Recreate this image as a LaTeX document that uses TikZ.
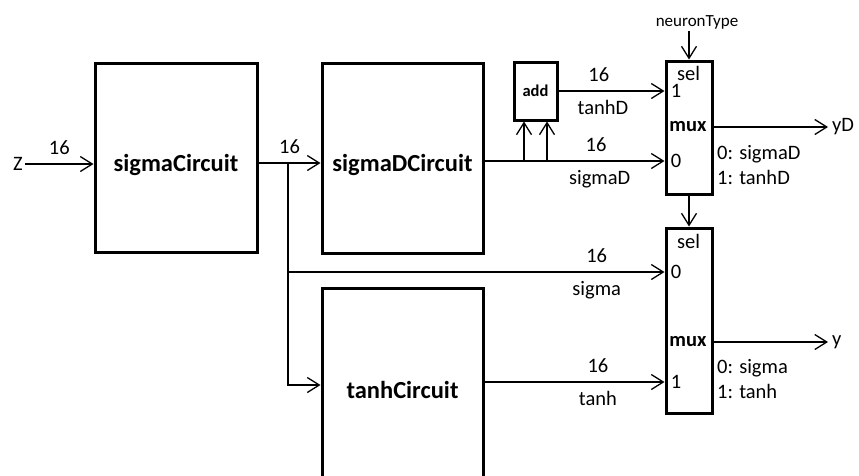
\documentclass[tikz,border=0pt]{standalone}
\usepackage{fontspec}
\setmainfont{Carlito}
\usetikzlibrary{arrows.meta}

\begin{document}
\begin{tikzpicture}[
x=1pt, y=-1pt,
blk/.style={draw, line width=3pt, minimum width=161pt, minimum height=190pt, text height=27pt, text depth=0pt, font=\fontsize{24.5}{29}\selectfont\bfseries},
muxbox/.style={draw, line width=3pt, minimum width=46pt, inner sep=0pt},
wire/.style={line width=1.3pt, -{Straight Barb[length=12pt,width=15pt]}},
lbl/.style={font=\fontsize{20.5}{25}\selectfont, inner sep=9pt},
port/.style={font=\fontsize{20.5}{25}\selectfont, inner sep=0pt},
muxlbl/.style={port, font=\fontsize{20.5}{25}\selectfont\bfseries}
]
\useasboundingbox (0,0) rectangle (859,475);
\clip (0,0) rectangle (859,475);

% circuit blocks
\node[blk, minimum width=162pt, minimum height=189pt] (sigma) at (176,157.5) {sigmaCircuit};
\node[blk] (sigmaD) at (402.5,158) {sigmaDCircuit};
\node[blk, minimum height=194pt] (tanh) at (402.5,385) {tanhCircuit};
\node[draw, line width=3pt, minimum width=43pt, minimum height=58pt, font=\fontsize{16.5}{20}\selectfont\bfseries] (add) at (535.5,91) {add};

% multiplexers
\node[muxbox, minimum height=133pt] (mux1) at (689,127.5) {};
\node[muxbox, minimum height=185pt] (mux2) at (689,320.5) {};
\node[port] (m1sel) at (688.5,73) {sel};
\node[port] (m1one) at (676,91) {1};
\node[muxlbl] (m1mux) at (688,127) {mux};
\node[port] (m1zero) at (676,161) {0};
\node[port] (m2sel) at (688.5,241) {sel};
\node[port] (m2zero) at (676,272) {0};
\node[muxlbl] (m2mux) at (688,342) {mux};
\node[port] (m2one) at (676,382) {1};
\node[port, anchor=west, align=left] (m1key) at (717,165.5) {0: sigmaD\\1: tanhD};
\node[port, anchor=west, align=left] (m2key) at (717,379.5) {0: sigma\\1: tanh};

% inputs and outputs
\node[port, inner sep=2pt] (z) at (18,164) {Z};
\node[font=\fontsize{17}{20}\selectfont, inner sep=2pt] (ntype) at (697,22) {neuronType};
\node[port, anchor=west, inner sep=4pt] (outD) at (828,127) {yD};
\node[port, anchor=west, inner sep=4pt] (out) at (828,342) {y};

% wires
\coordinate (br) at (288,163);
\draw[wire] (z) -- node[lbl, above]{16} (sigma.west |- z);
\draw[wire] (sigma.east |- br) -- node[lbl, above]{16} (sigmaD.west |- br);
\draw[wire] (br) |- (tanh.west);
\draw[wire] (br) |- node[lbl, above, pos=0.91]{16} node[lbl, below, pos=0.91]{sigma} (mux2.west |- m2zero);
\draw[wire] (sigmaD.east |- m1zero) -- node[lbl, above, pos=0.62]{16} node[lbl, below, pos=0.64]{sigmaD} (mux1.west |- m1zero);
\draw[wire] ([xshift=-11.5pt]add.south |- m1zero) -- ([xshift=-11.5pt]add.south);
\draw[wire] ([xshift=11.5pt]add.south |- m1zero) -- ([xshift=11.5pt]add.south);
\draw[wire] (add.east) -- node[lbl, above, pos=0.38]{16} node[lbl, below, pos=0.42]{tanhD} (mux1.west |- add.east);
\draw[wire] (tanh.east |- m2one) -- node[lbl, above, pos=0.63]{16} node[lbl, below, pos=0.63]{tanh} (mux2.west |- m2one);
\draw[wire] (ntype.south -| mux1.north) -- (mux1.north);
\draw[wire] (mux1.south) -- (mux2.north);
\draw[wire] (mux1.east |- m1mux) -- (outD);
\draw[wire] (mux2.east |- m2mux) -- (out);
\end{tikzpicture}
\end{document}
